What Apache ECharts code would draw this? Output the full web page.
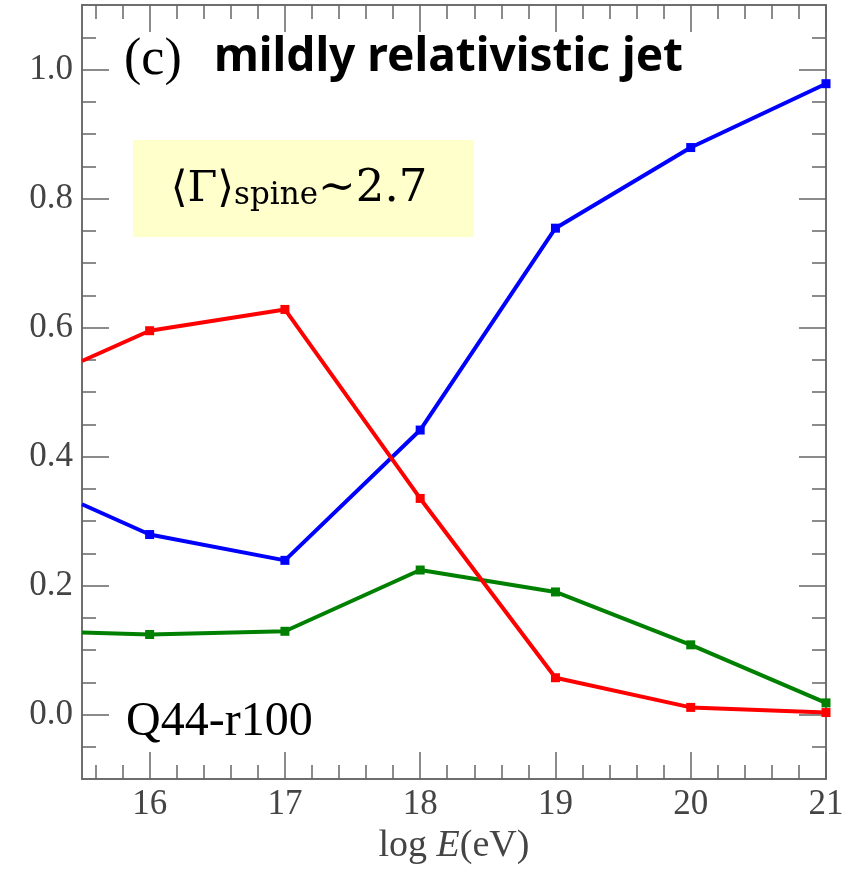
<!DOCTYPE html>
<html><head><meta charset="utf-8">
<script src="https://cdn.jsdelivr.net/npm/echarts@6/dist/echarts.min.js"></script>
<style>html,body{margin:0;padding:0;background:#fff}#c{width:846px;height:870px}</style>
</head><body><div id="c"></div>
<script>
const logE = [15.5, 16, 17, 18, 19, 20, 21];
const redVals = [0.548, 0.595, 0.628, 0.335, 0.057, 0.011, 0.003];
const blueVals = [0.326, 0.279, 0.239, 0.441, 0.754, 0.879, 0.978];
const greenVals = [0.127, 0.124, 0.129, 0.224, 0.190, 0.108, 0.018];
const xMajorTicks = [16, 17, 18, 19, 20, 21];
const xMinorTicks = [15.6, 15.8, 16.2, 16.4, 16.6, 16.8, 17.2, 17.4, 17.6, 17.8, 18.2, 18.4, 18.6, 18.8, 19.2, 19.4, 19.6, 19.8, 20.2, 20.4, 20.6, 20.8];
const yMajorTicks = [0.0, 0.2, 0.4, 0.6, 0.8, 1.0];
const yMinorTicks = [-0.05, 0.05, 0.1, 0.15, 0.25, 0.3, 0.35, 0.45, 0.5, 0.55, 0.65, 0.7, 0.75, 0.85, 0.9, 0.95, 1.05];

const AX = '#666';
const serif = 'Liberation Serif';

function pairs(vals) {
  return logE.map((x, i) => ({ value: [x, vals[i]], symbolSize: i === 0 ? 0 : 9 }));
}
function xAx(pos, ticks, len, labels) {
  return {
    type: 'value', min: 15.5, max: 21, position: pos,
    axisLine: { show: true, onZero: false, lineStyle: { color: AX, width: 1.5 } },
    axisTick: { show: true, inside: true, length: len, customValues: ticks, lineStyle: { color: AX, width: 1.5 } },
    axisLabel: labels ? { show: true, customValues: ticks, formatter: v => String(Math.round(v)), fontFamily: serif, fontSize: 35, color: '#444', margin: 8 } : { show: false },
    splitLine: { show: false }
  };
}
function yAx(pos, ticks, len, labels) {
  return {
    type: 'value', min: -0.1, max: 1.1, position: pos,
    axisLine: { show: true, onZero: false, lineStyle: { color: AX, width: 1.5 } },
    axisTick: { show: true, inside: true, length: len, customValues: ticks, lineStyle: { color: AX, width: 1.5 } },
    axisLabel: labels ? { show: true, customValues: ticks, formatter: v => v.toFixed(1), fontFamily: serif, fontSize: 35, color: '#444', margin: 9 } : { show: false },
    splitLine: { show: false }
  };
}
const chart = echarts.init(document.getElementById('c'));
chart.setOption({
  animation: false,
  backgroundColor: '#fff',
  grid: { left: 82, right: 20, top: 5, bottom: 91, containLabel: false, outerBoundsMode: 'none' },
  xAxis: [
    Object.assign(xAx('bottom', xMajorTicks, 27, true), {
      name: '{a|log }{i|E}{a|(eV)}', nameLocation: 'middle', nameGap: 44,
      nameTextStyle: { rich: { a: { fontFamily: serif, fontSize: 38, color: '#444' }, i: { fontFamily: serif, fontStyle: 'italic', fontSize: 38, color: '#444' } } }
    }),
    xAx('bottom', xMinorTicks, 14, false),
    xAx('top', xMajorTicks, 27, false),
    xAx('top', xMinorTicks, 14, false)
  ],
  yAxis: [
    yAx('left', yMajorTicks, 27, true),
    yAx('left', yMinorTicks, 14, false),
    yAx('right', yMajorTicks, 27, false),
    yAx('right', yMinorTicks, 14, false)
  ],
  series: [
    { type: 'line', data: pairs(greenVals), symbol: 'rect', color: '#008000', lineStyle: { width: 4 }, clip: true, z: 3 },
    { type: 'line', data: pairs(blueVals), symbol: 'rect', color: '#0000ff', lineStyle: { width: 4 }, clip: true, z: 4 },
    { type: 'line', data: pairs(redVals), symbol: 'rect', color: '#ff0000', lineStyle: { width: 4 }, clip: true, z: 5 }
  ],
  graphic: [
    { type: 'rect', z: 10, shape: { x: 133, y: 140, width: 341, height: 97 }, style: { fill: '#ffffcc' } },
    { type: 'text', z: 11, x: 299, y: 186, style: {
        text: '{g|⟨Γ⟩}{s|spine}{m|~2.7}', align: 'center', verticalAlign: 'middle',
        rich: {
          g: { fontFamily: 'DejaVu Serif', fontSize: 43, fill: '#000', verticalAlign: 'bottom' },
          m: { fontFamily: 'DejaVu Serif', fontSize: 45, fill: '#000', verticalAlign: 'bottom' },
          s: { fontFamily: 'DejaVu Serif', fontSize: 31, fill: '#000', padding: [20, 0, 0, 0], verticalAlign: 'bottom' }
        }
    } },
    { type: 'text', z: 11, x: 124, y: 60, style: {
        text: '(c)', verticalAlign: 'middle', font: '52px "Liberation Serif"', fill: '#000'
    } },
    { type: 'text', z: 11, x: 214, y: 58, style: {
        text: 'mildly relativistic jet', verticalAlign: 'middle', font: 'bold 46px "Noto Sans"', fill: '#000'
    } },
    { type: 'text', z: 11, x: 126, y: 722, style: {
        text: 'Q44-r100', verticalAlign: 'middle', font: '48px "Liberation Serif"', fill: '#000'
    } }
  ]
});
</script></body></html>
